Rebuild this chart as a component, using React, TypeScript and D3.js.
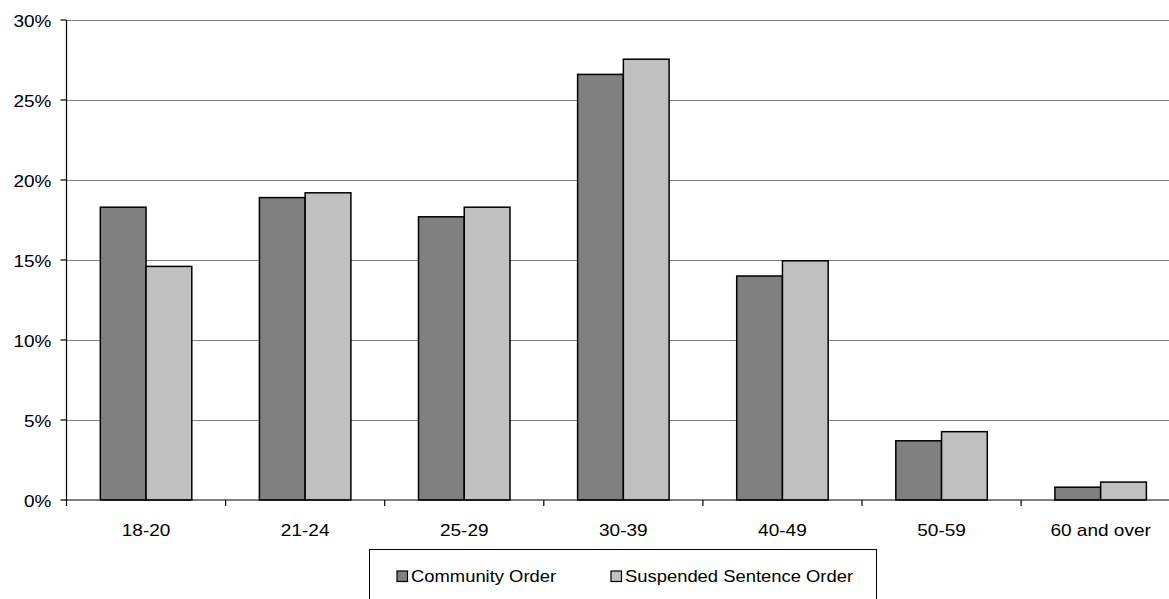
import React from "react";
import * as d3 from "d3";

const categories = ["18-20", "21-24", "25-29", "30-39", "40-49", "50-59", "60 and over"];
const communityOrder = [18.3, 18.9, 17.7, 26.6, 14.0, 3.7, 0.8];
const suspendedSentenceOrder = [14.6, 19.2, 18.3, 27.55, 14.95, 4.27, 1.12];
const seriesNames = ["Community Order", "Suspended Sentence Order"];
const seriesColors = ["#808080", "#C0C0C0"];
const yTicks = [0, 5, 10, 15, 20, 25, 30];

const W = 1169;
const H = 599;
const left = 66.5;
const top = 20;
const bottom = 500;
const step = 159.1;
const right = left + step * categories.length;

const FONT = "'Liberation Sans', Arial, sans-serif";

export default function App() {
  const x = d3
    .scaleBand<string>()
    .domain(categories)
    .range([left, right])
    .paddingInner(0.425)
    .paddingOuter(0.2125);
  const xs = d3.scaleBand<number>().domain([0, 1]).range([0, x.bandwidth()]);
  const y = d3.scaleLinear().domain([0, 30]).range([bottom, top]);
  const series = [communityOrder, suspendedSentenceOrder];

  return (
    <svg
      width={W}
      height={H}
      style={{ position: "absolute", left: 0, top: 0, background: "#fff" }}
      fontFamily={FONT}
    >
      <defs>
        <clipPath id="clip">
          <rect x={0} y={0} width={W} height={H} />
        </clipPath>
      </defs>
      {/* gridlines */}
      {yTicks
        .filter((t) => t > 0)
        .map((t) => (
          <line
            key={"g" + t}
            x1={left}
            x2={right}
            y1={Math.round(y(t)) + 0.5}
            y2={Math.round(y(t)) + 0.5}
            stroke="#808080"
            strokeWidth={1.2}
          />
        ))}
      {/* bars */}
      {categories.map((c, i) =>
        series.map((s, j) => (
          <rect
            key={c + j}
            x={(x(c) as number) + (xs(j) as number)}
            y={y(s[i])}
            width={xs.bandwidth()}
            height={bottom - y(s[i])}
            fill={seriesColors[j]}
            stroke="#000"
            strokeWidth={1.5}
          />
        ))
      )}
      {/* y axis */}
      <line x1={left} x2={left} y1={top} y2={bottom + 6} stroke="#000" strokeWidth={1.2} />
      {yTicks.map((t) => (
        <g key={"y" + t}>
          <line x1={left - 6} x2={left} y1={y(t)} y2={y(t)} stroke="#000" strokeWidth={1.2} />
          <text
            transform={`translate(${left - 15},${y(t) + 7}) scale(1.12,1)`}
            textAnchor="end"
            fontSize={17}
            fill="#000"
          >
            {t + "%"}
          </text>
        </g>
      ))}
      {/* x axis */}
      <line x1={left} x2={right} y1={bottom} y2={bottom} stroke="#000" strokeWidth={1.2} />
      {categories.map((c, i) => (
        <line
          key={"xt" + c}
          x1={left + step * (i + 1)}
          x2={left + step * (i + 1)}
          y1={bottom}
          y2={bottom + 6}
          stroke="#000"
          strokeWidth={1.2}
        />
      ))}
      {categories.map((c) => (
        <text
          key={"xl" + c}
          transform={`translate(${(x(c) as number) + x.bandwidth() / 2},${536}) scale(1.12,1)`}
          textAnchor="middle"
          fontSize={17}
          fill="#000"
        >
          {c}
        </text>
      ))}
      {/* legend */}
      <rect x={369.5} y={549.5} width={507} height={70} fill="#fff" stroke="#000" strokeWidth={1} />
      {seriesNames.map((n, j) => {
        const sx = j === 0 ? 397 : 611;
        return (
          <g key={"lg" + n}>
            <rect x={sx} y={571} width={10.5} height={10.5} fill={seriesColors[j]} stroke="#000" strokeWidth={1.2} />
            <text
              transform={`translate(${sx + 14},${581.5}) scale(1.15,1)`}
              fontSize={16}
              fill="#000"
            >
              {n}
            </text>
          </g>
        );
      })}
    </svg>
  );
}
